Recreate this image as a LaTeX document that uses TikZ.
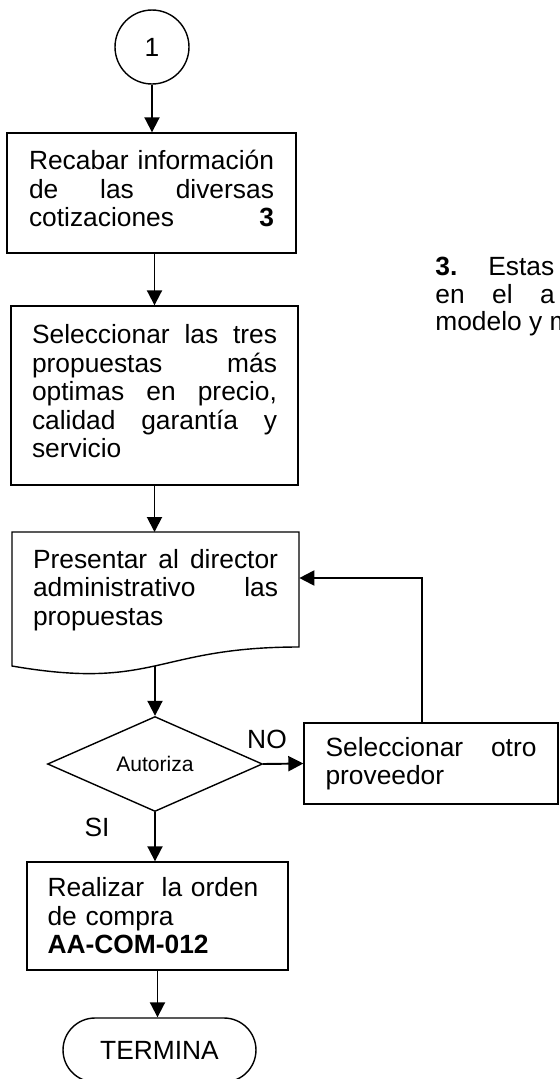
\documentclass[tikz,border=0pt]{standalone}
\usepackage{fontspec}
\setmainfont{Liberation Sans}
\usetikzlibrary{arrows.meta,shapes.geometric}
\tolerance=10000
\hyphenpenalty=10000
\tikzset{
	texto/.style={font=\fontsize{15}{16.2}\selectfont},
	caja/.style={texto, draw, line width=0.8pt, rectangle, align=justify, inner sep=0pt},
	decision/.style={draw, line width=0.8pt, diamond, inner sep=0pt, font=\fontsize{12}{14}\selectfont},
	flecha/.style={line width=1.1pt, -{Triangle[length=0.3cm,width=0.3cm]}},
	nota/.style={texto, anchor=base west, inner sep=0pt}
}

\begin{document}
\begin{tikzpicture}[x=0.02cm, y=-0.02cm]
		%%%%% START %%%%%
		\useasboundingbox (0,0) rectangle (560,1079);
		
		\node[texto, draw, line width=0.8pt, circle, minimum size=1.48cm, inner sep=0pt] (inicio) at (152,47) {1};
		
		\node[caja, minimum width=5.78cm, minimum height=2.4cm, text width=4.9cm] (recabar) at (151.5,193)
			{Recabar informaci\'on\linebreak de las diversas\linebreak cotizaciones\hfill\textbf{3}\strut};
		
		\node[caja, minimum width=5.74cm, minimum height=3.58cm, text width=4.9cm] (selec) at (154.5,395.5)
			{Seleccionar las tres\linebreak propuestas m\'as\linebreak optimas en precio,\linebreak calidad garant\'ia y\linebreak servicio\strut};
		
		% documento
		\node[texto, align=justify, anchor=north, text width=4.9cm, minimum width=5.74cm, inner xsep=0pt, inner ysep=0.34cm] (doc) at (155.5,532)
			{Presentar al director\linebreak administrativo las\linebreak propuestas};
		\draw[line width=0.8pt] (12,532) -- (299,532) -- (299,647) .. controls (155.5,647) and (155.5,690.8) .. (12,666) -- cycle;
		\coordinate (docfin) at (155,666);
		
		\node[decision, minimum width=4.3cm, minimum height=1.9cm] (autoriza) at (155,764) {Autoriza};
		
		\node[caja, minimum width=5.08cm, minimum height=1.62cm, text width=4.22cm] (otro) at (431,763.5)
			{Seleccionar otro\linebreak proveedor};
		
		\node[caja, align=left, minimum width=5.22cm, minimum height=2.16cm, text width=4.4cm] (realizar) at (157.5,916)
			{Realizar\ \ la orden\\ de compra\\ \textbf{AA-COM-012}};
		
		\node[texto, draw, line width=0.8pt, rectangle, rounded corners=0.64cm, minimum width=3.86cm, minimum height=1.28cm] (termina) at (159.5,1050) {TERMINA};
		
		\node[texto] (no) at (267,739) {NO};
		\node[texto] (si) at (97,827) {SI};
		
		% nota 3
		\node[nota] (nota1) at (435,275) {\textbf{3.}\hspace{0.62cm}Estas};
		\node[nota] (nota2) at (435,303) {en\hspace{0.55cm}el\hspace{0.55cm}a};
		\node[nota] (nota3) at (435,330) {modelo y m};
		
		% flechas
		\draw[flecha] (inicio.south) -- (inicio.south |- recabar.north);
		\draw[flecha] (recabar.south -| selec.north) -- (selec.north);
		\draw[flecha] (selec.south) -- (selec.south |- doc.north);
		\draw[flecha] (docfin) -- (autoriza.north);
		\draw[flecha] (autoriza.east) -- (otro.west);
		\draw[flecha] (autoriza.south) -- (autoriza.south |- realizar.north);
		\draw[flecha] (realizar.south) -- (realizar.south |- termina.north);
		
		\coordinate (vuelta) at (422,578);
		\draw[flecha] (vuelta |- otro.north) -- (vuelta) -- (vuelta -| doc.east);
		%%%%% END %%%%%
	\end{tikzpicture}
\end{document}
